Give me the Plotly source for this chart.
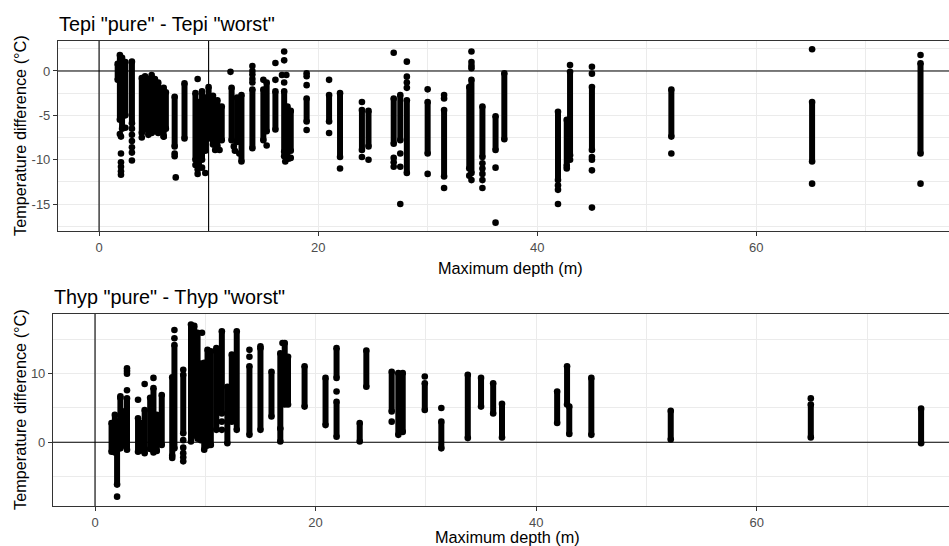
import plotly.graph_objects as go

# ---------------- data ----------------
# Tepi "pure" - Tepi "worst": dense runs of points (depth, low, high)
tepi_seg_depth = [1.7, 1.9, 2.1, 2.4, 3.0, 3.9, 4.2, 4.5, 4.8, 5.1, 5.4, 5.9, 6.1, 6.9, 7.8,
                  8.8, 9.1, 9.4, 9.7, 10.0, 10.4, 10.8, 11.2, 12.1, 12.6, 13.0, 14.0, 15.0,
                  15.3, 16.1, 16.9, 17.2, 17.5, 18.95, 21.0, 22.0, 24.0, 24.6, 26.9, 27.5,
                  28.1, 30.0, 31.5, 33.8, 34.0, 35.0, 36.2, 37.0, 41.9, 42.7, 43.0, 45.0,
                  52.25, 65.1, 75.0]
tepi_seg_lo = [-1.0, -5.5, -6.5, -5.0, -5.9, -7.0, -6.6, -7.2, -7.0, -6.8, -7.0, -7.4, -6.5,
               -8.5, -7.6, -10.0, -10.5, -10.0, -9.0, -7.6, -8.3, -8.5, -7.8, -7.8, -8.0,
               -10.2, -8.7, -7.8, -6.8, -6.6, -9.1, -9.8, -9.0, -5.7, -5.7, -9.7, -8.9,
               -8.5, -8.2, -7.8, -11.5, -9.3, -11.9, -11.0, -11.5, -9.7, -8.9, -7.7, -12.3,
               -10.7, -9.5, -8.9, -7.4, -10.2, -9.3]
tepi_seg_hi = [0.8, 1.8, 1.5, 1.0, 1.05, -0.8, -0.6, -0.9, -0.45, -0.9, -1.3, -1.9, -2.4,
               -2.9, -1.4, -2.5, -3.5, -2.3, -3.0, -1.8, -2.8, -3.3, -4.0, -1.9, -3.0, -2.7,
               -2.1, -2.1, -1.3, -2.3, -2.3, -4.0, -4.5, -3.1, -2.7, -2.5, -4.4, -4.5, -3.1,
               -2.7, -3.3, -3.5, -4.4, -1.8, -1.0, -4.0, -5.1, -0.26, -4.6, -5.5, -0.08,
               -1.8, -2.1, -3.5, 0.87]
# Tepi isolated points
tepi_pt_depth = [1.9, 2.0, 2.0, 2.0, 2.0, 2.0, 2.0, 2.4, 3.0, 3.0, 3.0, 3.0, 3.0, 3.0,
                 3.9, 5.9, 6.9, 6.9, 7.0, 9.0, 8.8, 9.0, 9.0, 9.7, 9.4, 10.6, 11.0,
                 12.0, 12.3, 12.4, 12.8, 14.0, 14.0, 14.0, 14.0, 14.0, 15.0, 15.3, 16.1, 16.1,
                 16.9, 16.9, 16.7, 17.1, 16.9, 16.9, 17.0, 17.3, 17.5,
                 18.95, 18.95, 18.95, 18.95, 21.0, 21.0, 22.0, 24.0, 24.0, 24.6,
                 26.9, 26.9, 26.9, 26.9, 27.5, 27.5, 27.5, 28.1, 28.1, 28.1, 28.1,
                 30.0, 30.0, 31.5, 31.5, 31.5, 34.0, 34.0, 34.0, 34.0, 34.0, 33.8,
                 35.0, 35.0, 35.0, 35.0, 35.0, 36.2, 36.2, 41.9, 41.9, 41.9,
                 43.0, 43.0, 42.7, 45.0, 45.0, 45.0, 45.0, 45.0, 45.0,
                 52.25, 65.1, 65.1, 75.0, 75.0]
tepi_pt_val = [-7.1, -7.4, -9.3, -10.3, -10.8, -11.3, -11.7, -6.4, -6.5, -7.2, -7.9, -8.6, -9.2, -10.1,
               -7.5, -7.4, -9.3, -9.6, -12.0, -0.9, -10.6, -11.1, -11.6, -11.5, -10.9, -8.9, -8.9,
               -0.1, -8.5, -9.0, -9.3, 0.56, 0.0, -0.4, -0.9, -1.3, -1.0, -8.4, 0.9, -1.0,
               2.2, 1.2, -0.45, -0.45, -1.3, -9.6, -10.2, -9.9, -9.8,
               -0.26, -0.6, -1.6, -6.65, -1.0, -7.0, -11.0, -3.5, -9.7, -10.0,
               2.06, -9.8, -10.3, -10.8, -9.3, -10.8, -15.0, 1.05, -0.64, -1.3, -1.9,
               -2.07, -11.6, -2.7, -3.1, -13.2, 2.2, 1.0, 0.6, 0.3, -12.3, -11.8,
               -10.4, -11.0, -11.6, -12.3, -13.2, -10.9, -17.1, -12.9, -13.4, -15.0,
               0.68, -10.0, -11.0, 0.48, -0.3, -9.7, -10.0, -11.2, -15.4,
               -9.3, 2.45, -12.7, 1.8, -12.7]

# Thyp "pure" - Thyp "worst": dense runs of points (depth, low, high)
thyp_seg_depth = [1.5, 1.8, 2.0, 2.3, 2.5, 2.9, 3.9, 4.2, 4.5, 5.0, 5.3, 5.6, 6.05, 7.0, 7.2,
                  8.0, 8.7, 9.0, 9.3, 9.6, 9.9, 10.2, 10.5, 11.0, 11.5, 12.0, 12.4, 12.85,
                  14.0, 15.0, 16.0, 16.8, 17.2, 17.5, 19.0, 20.9, 21.9, 21.9, 24.0, 24.6,
                  26.9, 27.5, 27.9, 29.9, 31.4, 33.8, 35.0, 36.1, 36.9, 41.9, 42.8, 43.0,
                  45.0, 52.2, 64.9, 74.9]
thyp_seg_lo = [-1.4, -1.5, -6.2, -0.9, -0.5, -1.1, -1.4, -1.2, -1.6, -1.0, -1.5, -1.3, -0.4,
               -2.0, -0.9, 1.3, 0.1, 1.0, 0.5, 0.3, -1.1, -0.5, -0.4, 1.8, 4.2, -0.15, 3.0,
               1.8, 1.07, 1.8, 3.75, 0.1, 5.5, 5.5, 5.2, 2.5, 9.4, 0.8, 0.1, 8.1, 4.5, 1.07,
               1.5, 4.7, -0.9, 0.6, 5.2, 4.2, 0.7, 2.8, 5.5, 1.2, 1.07, 0.4, 0.7, -0.15]
thyp_seg_hi = [2.8, 4.0, 3.0, 6.5, 4.5, 6.4, 3.5, 2.8, 4.7, 6.5, 7.9, 4.0, 6.9, 9.5, 14.2,
               9.85, 17.2, 17.0, 16.0, 11.5, 11.6, 13.5, 13.3, 13.75, 16.2, 8.1, 12.8, 16.2,
               11.1, 13.75, 10.3, 13.0, 14.5, 12.5, 11.1, 9.4, 13.75, 5.9, 2.8, 13.4, 10.3,
               10.1, 10.1, 8.6, 3.0, 9.85, 9.4, 8.6, 5.6, 7.4, 11.1, 5.2, 9.4, 4.6, 5.5, 4.9]
# Thyp isolated points
thyp_pt_depth = [2.0, 2.3, 2.9, 2.9, 2.9, 2.9, 3.9, 4.5, 5.3, 7.2, 7.2, 7.0, 8.0, 8.0, 8.0,
                 8.0, 8.0, 8.0, 9.7, 11.5, 11.5, 14.0, 14.0, 15.0, 16.8, 17.0, 21.9, 26.9,
                 29.9, 31.4, 64.9]
thyp_pt_val = [-7.96, 6.7, 10.8, 10.4, 10.0, 7.6, 6.2, 8.5, 9.4, 16.4, 15.2, -2.3, 10.6, 0.3,
               -0.8, -1.6, -2.2, -2.8, 16.0, 3.0, 1.8, 13.5, 12.5, 14.0, 2.0, 14.5, 7.4, 3.0,
               9.6, 5.0, 6.4]

# reference lines
tepi_vlines = [0, 10]
thyp_vlines = [0]
hlines = [0]

# axis ticks
x_major = [0, 20, 40, 60]
x_minor = [10, 30, 50, 70]
tepi_y_major = [-15, -10, -5, 0]
tepi_y_minor = [-17.5, -12.5, -7.5, -2.5, 2.5]
thyp_y_major = [0, 10]
thyp_y_minor = [-5, 5, 15]

titles = ['Tepi "pure" - Tepi "worst"', 'Thyp "pure" - Thyp "worst"']
x_title = "Maximum depth (m)"
y_title = "Temperature difference (°C)"

# ---------------- figure ----------------
W, H = 949, 546
FONT = "Liberation Sans, Arial, sans-serif"
MS = 6.6

fig = go.Figure()


def add_panel(seg_d, seg_lo, seg_hi, pt_d, pt_v, xa, ya):
    xs, ys = [], []
    for d, lo, hi in zip(seg_d, seg_lo, seg_hi):
        xs += [d, d, None]
        ys += [lo, hi, None]
    fig.add_trace(go.Scatter(x=xs, y=ys, mode="lines+markers", xaxis=xa, yaxis=ya,
                             line=dict(color="black", width=MS - 0.6),
                             marker=dict(color="black", size=MS),
                             showlegend=False, hoverinfo="skip"))
    fig.add_trace(go.Scatter(x=pt_d, y=pt_v, mode="markers", xaxis=xa, yaxis=ya,
                             marker=dict(color="black", size=MS),
                             showlegend=False))


add_panel(tepi_seg_depth, tepi_seg_lo, tepi_seg_hi, tepi_pt_depth, tepi_pt_val, "x", "y")
add_panel(thyp_seg_depth, thyp_seg_lo, thyp_seg_hi, thyp_pt_depth, thyp_pt_val, "x2", "y2")

# panel geometry in pixels
top_px = dict(l=58, t=41, b=231)
bot_px = dict(l=53, t=314, b=506)

grid = "#EBEBEB"
border = "#333333"
tickfont = dict(family=FONT, size=13, color="#4D4D4D")


def xaxis_cfg(left_px, rng, anchor):
    return dict(domain=[left_px / W, 1], range=rng, anchor=anchor,
                tickvals=x_major, ticktext=[str(v) for v in x_major],
                showgrid=True, gridcolor=grid, gridwidth=1.1,
                minor=dict(tickvals=x_minor, showgrid=True, gridcolor=grid, gridwidth=0.6),
                showline=True, mirror=True, linecolor=border, linewidth=1.1,
                ticks="outside", ticklen=4, tickcolor=border, tickwidth=1,
                tickfont=tickfont, zeroline=False)


def yaxis_cfg(p, rng, anchor, major, minor):
    return dict(domain=[1 - p["b"] / H, 1 - p["t"] / H], range=rng, anchor=anchor,
                tickvals=major, ticktext=[str(v) for v in major],
                showgrid=True, gridcolor=grid, gridwidth=1.1,
                minor=dict(tickvals=minor, showgrid=True, gridcolor=grid, gridwidth=0.6),
                showline=True, mirror=False, linecolor=border, linewidth=1.1,
                ticks="outside", ticklen=4, tickcolor=border, tickwidth=1,
                tickfont=tickfont, zeroline=False)


fig.update_layout(
    width=W, height=H, margin=dict(l=0, r=0, t=0, b=0),
    paper_bgcolor="white", plot_bgcolor="white",
    font=dict(family=FONT, color="black"),
    xaxis=xaxis_cfg(top_px["l"], [-3.75, 77.6], "y"),
    yaxis=yaxis_cfg(top_px, [-18.04, 3.38], "x", tepi_y_major, tepi_y_minor),
    xaxis2=xaxis_cfg(bot_px["l"], [-3.81, 77.43], "y2"),
    yaxis2=yaxis_cfg(bot_px, [-9.33, 18.74], "x2", thyp_y_major, thyp_y_minor),
)

# reference lines (black, same colour as the points, so drawing them above is invisible)
ref_line = dict(color="black", width=1.1)
for v in tepi_vlines:
    fig.add_shape(type="line", xref="x", yref="y domain", x0=v, x1=v, y0=0, y1=1,
                  line=ref_line, layer="above")
for v in thyp_vlines:
    fig.add_shape(type="line", xref="x2", yref="y2 domain", x0=v, x1=v, y0=0, y1=1,
                  line=ref_line, layer="above")
for h in hlines:
    fig.add_shape(type="line", xref="x domain", yref="y", x0=0, x1=1, y0=h, y1=h,
                  line=ref_line, layer="above")
    fig.add_shape(type="line", xref="x2 domain", yref="y2", x0=0, x1=1, y0=h, y1=h,
                  line=ref_line, layer="above")

# titles and axis titles
for p, title in zip([top_px, bot_px], titles):
    fig.add_annotation(text=title, xref="paper", yref="paper", x=(p["l"] - 1) / W,
                       y=1 - (p["t"] - 4) / H, xanchor="left", yanchor="bottom",
                       showarrow=False, font=dict(family=FONT, size=19.8, color="black"))
    fig.add_annotation(text=y_title, xref="paper", yref="paper", x=20 / W,
                       y=1 - (p["t"] + p["b"]) / 2 / H, xanchor="center", yanchor="middle",
                       textangle=-90, showarrow=False,
                       font=dict(family=FONT, size=16.3, color="black"))

fig.add_annotation(text=x_title, xref="paper", yref="paper", x=510 / W, y=1 - 268 / H,
                   xanchor="center", yanchor="middle", showarrow=False,
                   font=dict(family=FONT, size=16.3, color="black"))
fig.add_annotation(text=x_title, xref="paper", yref="paper", x=507 / W, y=1 - 537 / H,
                   xanchor="center", yanchor="middle", showarrow=False,
                   font=dict(family=FONT, size=16.3, color="black"))

fig.write_html("out.html")
